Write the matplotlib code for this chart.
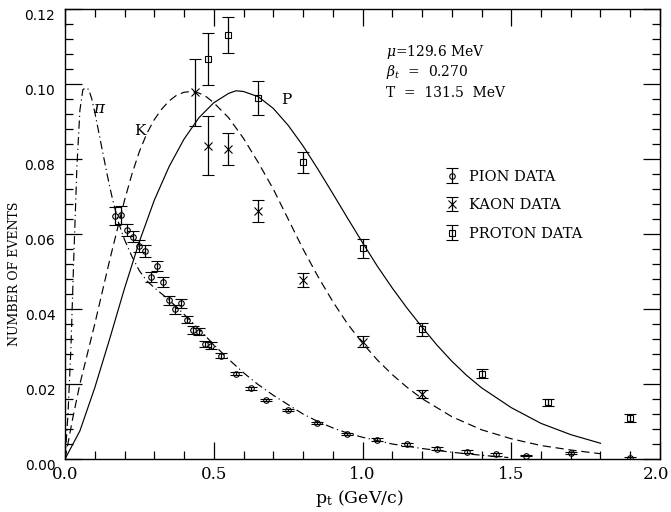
import numpy as np
import matplotlib
matplotlib.use("Agg")
from matplotlib import pyplot as plt
from matplotlib.transforms import ScaledTranslation

# data
pion_x = [0.168, 0.188, 0.21, 0.23, 0.25, 0.27, 0.29, 0.31, 0.33, 0.35, 0.37, 0.39,
          0.41, 0.43, 0.45, 0.47, 0.49, 0.525, 0.575, 0.624, 0.675, 0.75, 0.848,
          0.948, 1.05, 1.15, 1.25, 1.35, 1.45, 1.55, 1.70, 1.90]
pion_y = [0.0648, 0.0651, 0.0611, 0.0593, 0.0568, 0.0555, 0.0485, 0.0515, 0.0472,
          0.0424, 0.0399, 0.0415, 0.0372, 0.0344, 0.0340, 0.0307, 0.0302, 0.0276,
          0.0228, 0.0189, 0.0157, 0.0130, 0.0097, 0.0067, 0.0052, 0.0039, 0.0028,
          0.0020, 0.0013, 0.0009, 0.0016, 0.0002]
pion_err = [0.0024, 0.0024, 0.0017, 0.0015, 0.0015, 0.0015, 0.0013, 0.0013, 0.0013,
            0.0012, 0.0012, 0.0012, 0.0010, 0.0010, 0.0010, 0.0009, 0.0009, 0.0006,
            0.0005, 0.0004, 0.0003, 0.0003, 0.0003, 0.0003, 0.0003, 0.0003, 0.0004,
            0.0003, 0.0004, 0.0002, 0.0003, 0.0003]

kaon_x = [0.438, 0.48, 0.549, 0.65, 0.80, 1.0, 1.2]
kaon_y = [0.0978, 0.0836, 0.0827, 0.0662, 0.0477, 0.0313, 0.0173]
kaon_err = [0.0089, 0.0079, 0.0043, 0.0030, 0.0019, 0.0015, 0.0010]

proton_x = [0.48, 0.549, 0.65, 0.80, 1.0, 1.2, 1.40, 1.625, 1.90]
proton_y = [0.1066, 0.1132, 0.0963, 0.0791, 0.0562, 0.0346, 0.0227, 0.0151, 0.0110]
proton_err = [0.0069, 0.0048, 0.0046, 0.0028, 0.0025, 0.0018, 0.0012, 0.0009, 0.0010]

# model curves
pi_fit_x = [0.0, 0.01, 0.02, 0.03, 0.04, 0.05, 0.06, 0.07, 0.08, 0.09, 0.10, 0.11,
            0.12, 0.13, 0.14, 0.15, 0.16, 0.18, 0.20, 0.225, 0.25, 0.275, 0.30,
            0.35, 0.40, 0.45, 0.50, 0.55, 0.60, 0.65, 0.70, 0.75, 0.80, 0.85,
            0.90, 0.95, 1.0, 1.1, 1.2, 1.3, 1.4, 1.49]
pi_fit_y = [0.0, 0.012, 0.030, 0.055, 0.078, 0.093, 0.0985, 0.0990, 0.0985, 0.0960,
            0.0925, 0.0885, 0.0845, 0.0805, 0.0765, 0.0727, 0.0692, 0.0630, 0.0585,
            0.0540, 0.0502, 0.0475, 0.0457, 0.0424, 0.0386, 0.0346, 0.0305, 0.0266,
            0.0230, 0.0198, 0.0170, 0.0145, 0.0120, 0.0100, 0.0083, 0.0069, 0.0058,
            0.0040, 0.0028, 0.0018, 0.0010, 0.0004]

k_fit_x = [0.0, 0.025, 0.05, 0.075, 0.1, 0.125, 0.15, 0.175, 0.2, 0.225, 0.25,
           0.275, 0.3, 0.325, 0.35, 0.375, 0.4, 0.425, 0.45, 0.475, 0.5, 0.55,
           0.6, 0.65, 0.7, 0.75, 0.8, 0.85, 0.9, 0.95, 1.0, 1.05, 1.1, 1.15, 1.2,
           1.3, 1.4, 1.5, 1.6, 1.7, 1.8]
k_fit_y = [0.0, 0.0105, 0.020, 0.028, 0.036, 0.0445, 0.053, 0.061, 0.069, 0.0760,
           0.0820, 0.0868, 0.0905, 0.0933, 0.0955, 0.0970, 0.0978, 0.0980, 0.0976,
           0.0966, 0.0950, 0.0910, 0.0855, 0.0790, 0.0720, 0.0640, 0.0560, 0.0487,
           0.0420, 0.0360, 0.0309, 0.0264, 0.0225, 0.0191, 0.0161, 0.0113, 0.0078,
           0.0054, 0.0036, 0.0024, 0.0014]

p_fit_x = [0.0, 0.05, 0.1, 0.15, 0.2, 0.25, 0.3, 0.35, 0.4, 0.45, 0.5, 0.55, 0.575,
           0.6, 0.65, 0.7, 0.75, 0.8, 0.85, 0.9, 0.95, 1.0, 1.05, 1.1, 1.15, 1.2,
           1.25, 1.3, 1.35, 1.4, 1.5, 1.6, 1.7, 1.8]
p_fit_y = [0.0, 0.0075, 0.0190, 0.0320, 0.0455, 0.0580, 0.0690, 0.0780, 0.0853,
           0.0910, 0.0950, 0.0975, 0.0982, 0.0980, 0.0966, 0.0935, 0.0890, 0.0835,
           0.0773, 0.0708, 0.0642, 0.0577, 0.0514, 0.0456, 0.0402, 0.0352, 0.0304,
           0.0261, 0.0223, 0.0190, 0.0137, 0.0095, 0.0065, 0.0042]

plt.rcParams["font.family"] = "DejaVu Serif"
plt.rcParams["mathtext.fontset"] = "dejavuserif"

fig = plt.figure(figsize=(6.71, 5.12), dpi=100)
ax = fig.add_axes([0.0969, 0.1035, 0.8867, 0.8789])

lw = 0.85
ax.plot(p_fit_x, p_fit_y, color="black", lw=lw, ls="-")
ax.plot(k_fit_x, k_fit_y, color="black", lw=lw, ls=(0, (7, 4)))
ax.plot(pi_fit_x, pi_fit_y, color="black", lw=lw, ls=(0, (7, 3, 1, 3)))

eb_kw = dict(color="black", ls="none", elinewidth=0.9, capsize=4.2, capthick=0.9,
             mfc="none", mec="black", mew=0.8)
h_pi = ax.errorbar(pion_x, pion_y, yerr=pion_err, marker="o", ms=4, **eb_kw)
h_k = ax.errorbar(kaon_x, kaon_y, yerr=kaon_err, marker="x", ms=5.5, **eb_kw)
h_p = ax.errorbar(proton_x, proton_y, yerr=proton_err, marker="s", ms=5, **eb_kw)

leg = ax.legend([h_pi, h_k, h_p], ["PION DATA", "KAON DATA", "PROTON DATA"],
                loc="center left", bbox_to_anchor=(0.638, 0.564), frameon=False,
                borderpad=0, borderaxespad=0, handlelength=1.0, handletextpad=0.7,
                labelspacing=1.0, fontsize=10.5)

ax.text(0.115, 0.0935, r"$\pi$", fontsize=12, ha="center", va="center")
ax.text(0.25, 0.0875, "K", fontsize=11, ha="center", va="center")
ax.text(0.745, 0.0957, "P", fontsize=11, ha="center", va="center")

ax.text(1.08, 0.1086, r"$\mu$=129.6 MeV", fontsize=10, va="center")
ax.text(1.08, 0.1033, r"$\boldsymbol{\beta_t}$  =  0.270", fontsize=10, va="center")
ax.text(1.08, 0.0977, "T  =  131.5  MeV", fontsize=10, va="center")

ax.set_xlim(0, 2.0)
ax.set_ylim(0, 0.12)
ax.set_xticks(np.arange(0, 2.01, 0.5))
ax.set_xticks(np.arange(0, 2.01, 0.1), minor=True)
ax.set_yticks(np.arange(0, 0.1201, 0.02))
ax.set_yticks(np.arange(0, 0.1201, 0.004), minor=True)
ax.set_xticklabels(["0.0", "0.5", "1.0", "1.5", "2.0"], fontsize=12)
ax.set_yticklabels(["%.2f" % v for v in np.arange(0, 0.1201, 0.02)],
                   fontsize=10, family="DejaVu Sans")
ax.tick_params(which="both", direction="in", top=True, right=True, width=0.9)
ax.tick_params(which="major", length=12)
ax.tick_params(which="minor", length=5.5)
ax.tick_params(axis="y", pad=7)
ax.tick_params(axis="x", pad=5)
off = ScaledTranslation(0, -5 / 100, fig.dpi_scale_trans)
for lab in ax.get_yticklabels():
    lab.set_transform(lab.get_transform() + off)
# last x label sits right at the figure edge, nudge it in a little
last = ax.get_xticklabels()[-1]
last.set_transform(last.get_transform() + ScaledTranslation(-4 / 100, 0, fig.dpi_scale_trans))
for s in ax.spines.values():
    s.set_linewidth(1.0)

ax.set_xlabel(r"p$_\mathrm{t}$ (GeV/c)", fontsize=12.5)
ax.set_ylabel("NUMBER OF EVENTS", fontsize=9)
ax.xaxis.set_label_coords(0.494, -0.065)
ax.yaxis.set_label_coords(-0.074, 0.411)

fig.savefig("out.png", dpi=100)
